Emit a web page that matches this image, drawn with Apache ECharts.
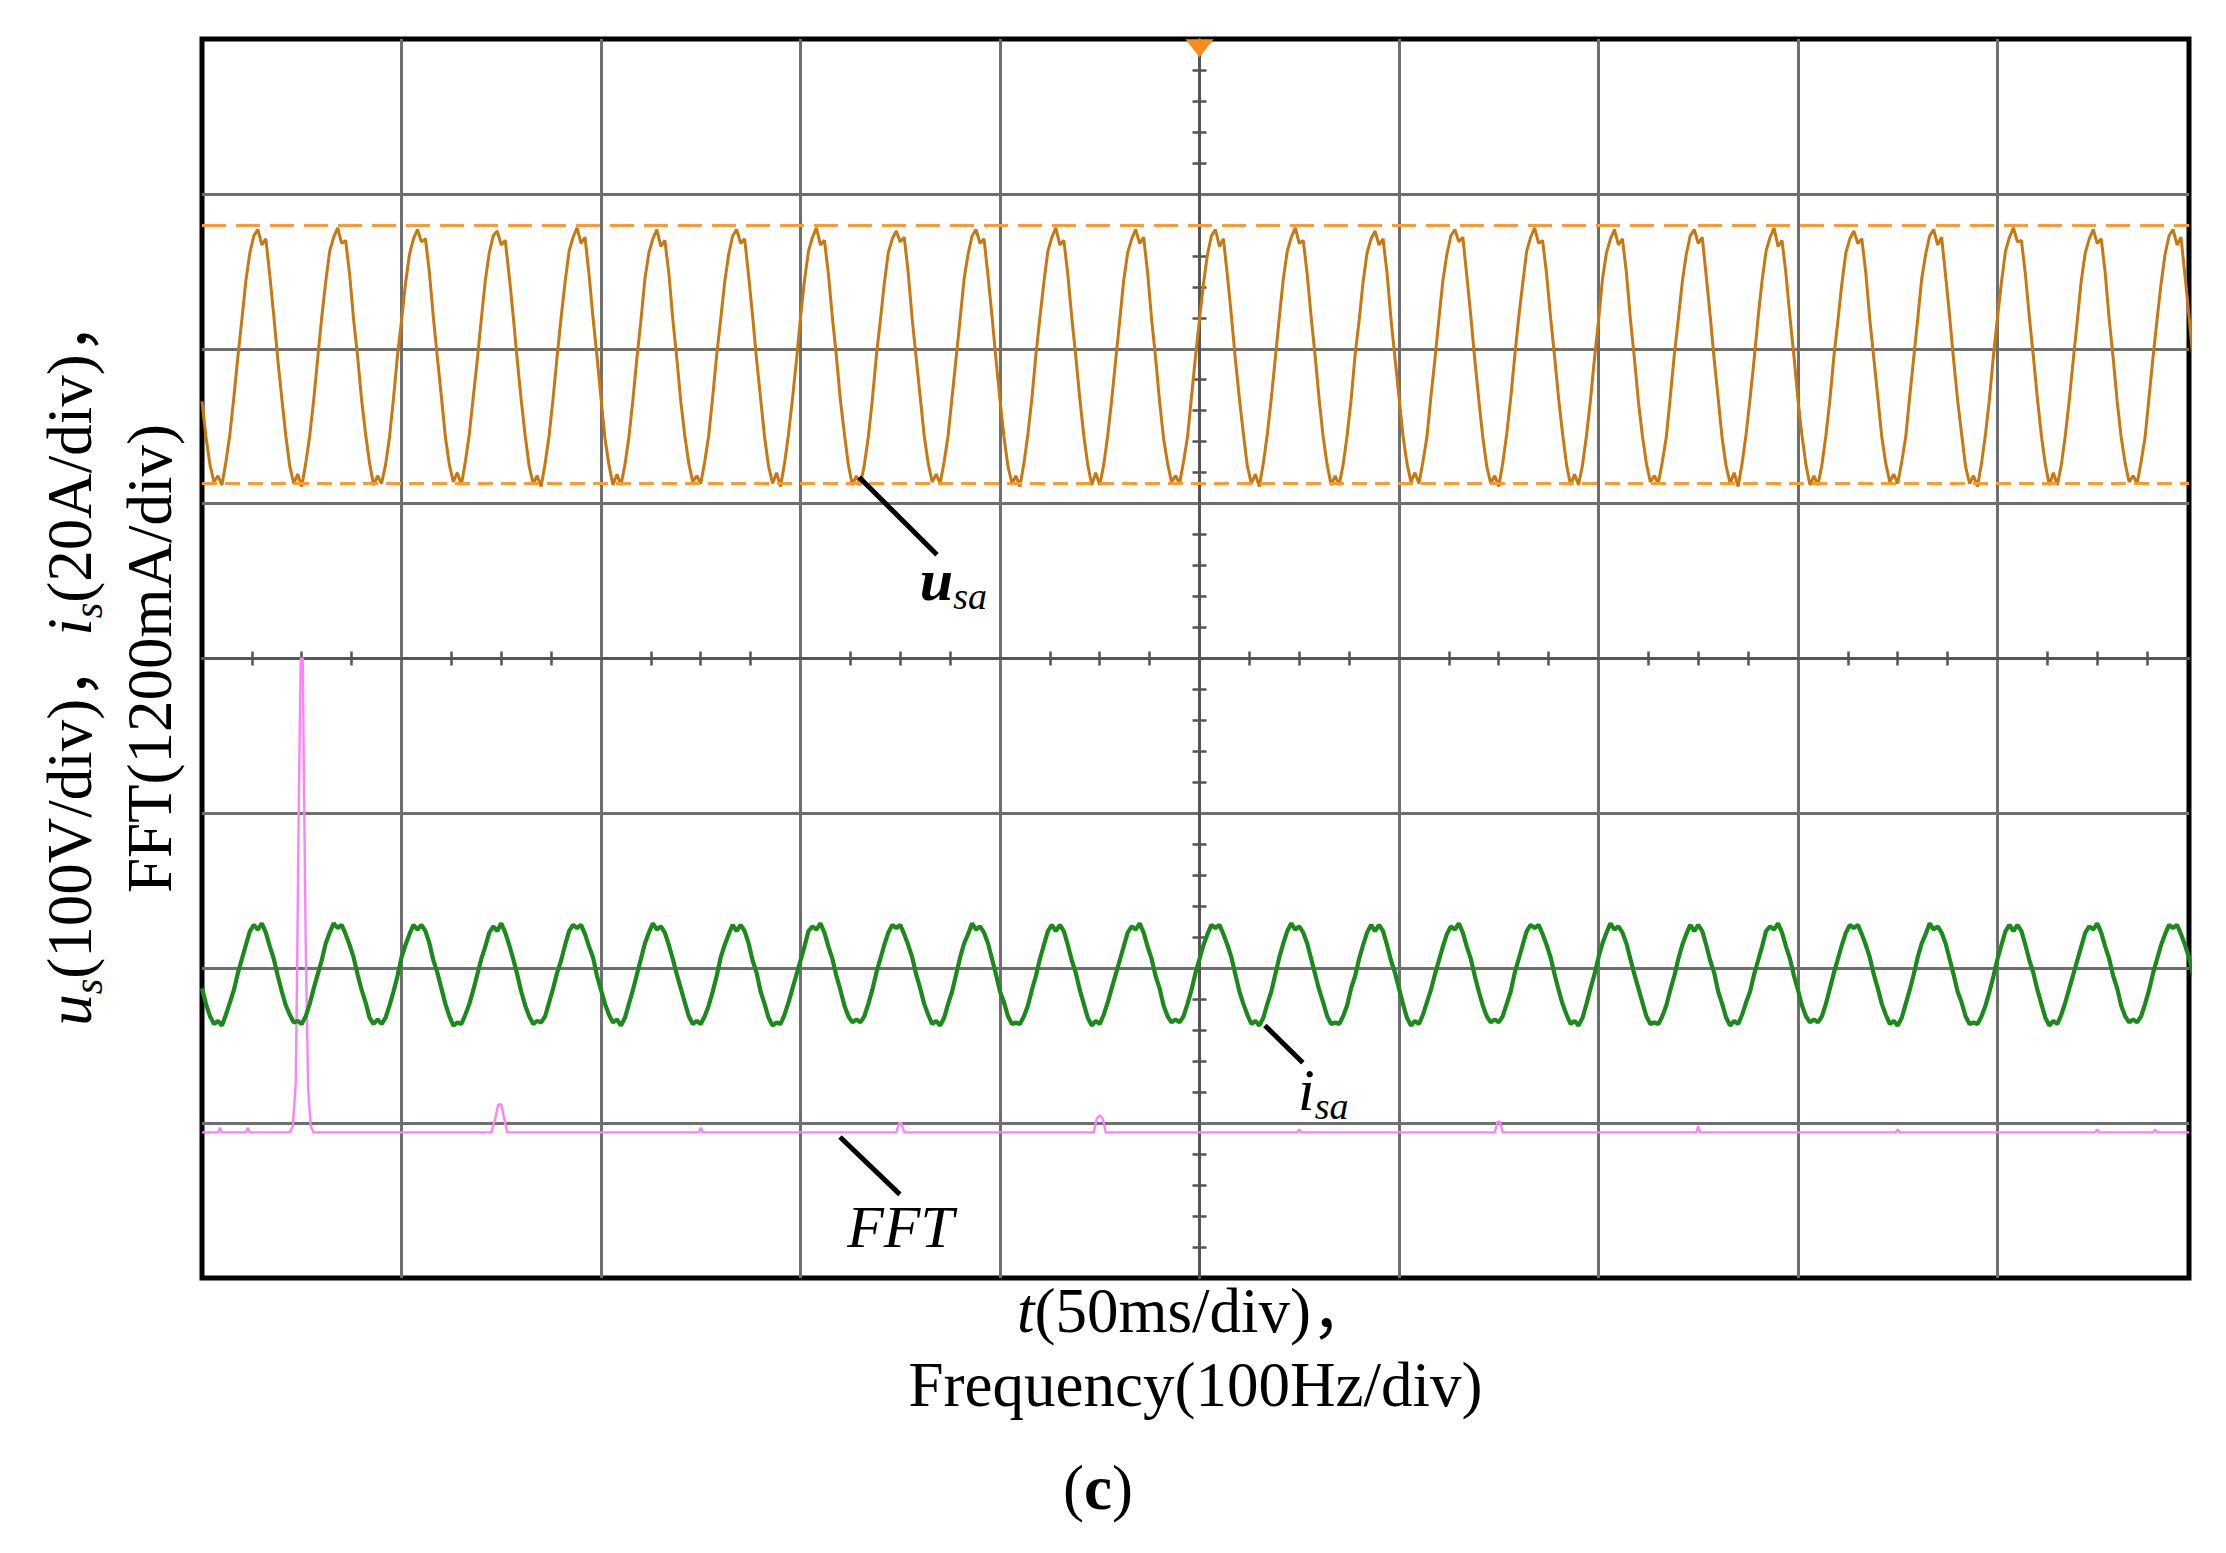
<!DOCTYPE html>
<html><head><meta charset="utf-8">
<script src="https://cdn.jsdelivr.net/npm/echarts@6/dist/echarts.min.js"></script>
<style>html,body{margin:0;padding:0;background:#fff}#c{width:2226px;height:1553px}</style>
</head><body><div id="c"></div>
<script>
// ---- data (all in oscilloscope divisions; 0 = centre line) ----
const sampleStepMs = 1;
// u_sa trace, one sample per ms, t = 0..500 ms
const usaDiv = [
1.66,1.43,1.25,1.14,1.18,1.12,1.27,1.45,1.69,1.95,2.19,2.44,2.62,2.73,2.77,2.67,2.71,2.47,2.21,1.93,
1.68,1.44,1.24,1.13,1.19,1.11,1.26,1.44,1.67,1.94,2.20,2.43,2.63,2.72,2.78,2.68,2.70,2.48,2.19,1.95,
1.67,1.45,1.26,1.12,1.18,1.13,1.25,1.43,1.68,1.96,2.18,2.42,2.61,2.71,2.77,2.69,2.71,2.49,2.20,1.94,
1.69,1.43,1.25,1.14,1.20,1.12,1.27,1.45,1.69,1.93,2.19,2.44,2.62,2.73,2.76,2.67,2.70,2.47,2.21,1.93,
1.67,1.44,1.24,1.13,1.18,1.11,1.26,1.44,1.68,1.95,2.20,2.43,2.63,2.72,2.78,2.68,2.72,2.48,2.20,1.95,
1.68,1.42,1.25,1.12,1.19,1.12,1.25,1.43,1.67,1.94,2.18,2.45,2.62,2.71,2.77,2.66,2.70,2.49,2.19,1.94,
1.66,1.44,1.26,1.14,1.18,1.13,1.27,1.44,1.69,1.96,2.19,2.43,2.61,2.73,2.77,2.68,2.71,2.47,2.21,1.93,
1.68,1.43,1.24,1.13,1.20,1.11,1.26,1.45,1.68,1.93,2.20,2.44,2.63,2.72,2.78,2.67,2.70,2.48,2.20,1.95,
1.67,1.45,1.25,1.12,1.18,1.12,1.25,1.43,1.67,1.95,2.18,2.42,2.62,2.71,2.76,2.69,2.72,2.49,2.19,1.94,
1.69,1.44,1.26,1.14,1.19,1.13,1.27,1.44,1.69,1.94,2.19,2.45,2.61,2.73,2.77,2.68,2.71,2.47,2.21,1.93,
1.67,1.43,1.24,1.13,1.18,1.11,1.26,1.45,1.68,1.96,2.20,2.43,2.63,2.72,2.78,2.67,2.70,2.48,2.20,1.95,
1.68,1.44,1.25,1.12,1.20,1.12,1.25,1.44,1.67,1.93,2.18,2.44,2.62,2.71,2.77,2.68,2.72,2.49,2.19,1.94,
1.66,1.42,1.26,1.14,1.18,1.13,1.27,1.43,1.69,1.95,2.19,2.42,2.61,2.73,2.77,2.66,2.71,2.47,2.21,1.93,
1.68,1.45,1.24,1.13,1.19,1.11,1.26,1.45,1.68,1.94,2.20,2.45,2.63,2.72,2.78,2.68,2.70,2.48,2.20,1.95,
1.67,1.43,1.25,1.12,1.18,1.12,1.25,1.44,1.67,1.96,2.18,2.43,2.62,2.71,2.76,2.67,2.71,2.49,2.19,1.94,
1.69,1.44,1.26,1.14,1.20,1.13,1.27,1.43,1.69,1.93,2.19,2.44,2.61,2.73,2.77,2.69,2.72,2.47,2.21,1.93,
1.67,1.43,1.24,1.13,1.18,1.11,1.26,1.45,1.68,1.95,2.20,2.42,2.63,2.72,2.78,2.68,2.70,2.48,2.20,1.95,
1.68,1.45,1.25,1.12,1.19,1.12,1.25,1.44,1.67,1.94,2.18,2.45,2.62,2.71,2.77,2.67,2.71,2.49,2.19,1.94,
1.66,1.44,1.26,1.14,1.18,1.13,1.27,1.43,1.69,1.96,2.19,2.43,2.61,2.73,2.77,2.68,2.72,2.47,2.21,1.93,
1.68,1.42,1.24,1.13,1.20,1.11,1.26,1.45,1.68,1.93,2.20,2.44,2.63,2.72,2.78,2.66,2.70,2.48,2.20,1.95,
1.67,1.44,1.25,1.12,1.18,1.12,1.25,1.44,1.67,1.95,2.18,2.42,2.62,2.71,2.76,2.68,2.71,2.49,2.19,1.94,
1.69,1.43,1.26,1.14,1.19,1.13,1.27,1.43,1.69,1.94,2.19,2.45,2.61,2.73,2.77,2.67,2.72,2.47,2.21,1.93,
1.67,1.45,1.24,1.13,1.18,1.11,1.26,1.45,1.68,1.96,2.20,2.43,2.63,2.72,2.78,2.69,2.70,2.48,2.20,1.95,
1.68,1.44,1.25,1.12,1.20,1.12,1.25,1.44,1.67,1.93,2.18,2.44,2.62,2.71,2.77,2.68,2.71,2.49,2.19,1.94,
1.66,1.43,1.26,1.14,1.18,1.13,1.27,1.43,1.69,1.95,2.19,2.42,2.61,2.73,2.77,2.67,2.72,2.47,2.21,1.93,
1.67
];
// i_sa trace, one sample per ms, t = 0..500 ms
const isaDiv = [
-2.13,-2.23,-2.31,-2.36,-2.34,-2.37,-2.30,-2.22,-2.14,-2.03,-1.94,-1.85,-1.76,-1.72,-1.75,-1.71,-1.77,-1.86,-1.94,-2.05,
-2.15,-2.24,-2.30,-2.35,-2.34,-2.36,-2.31,-2.23,-2.13,-2.04,-1.95,-1.84,-1.77,-1.71,-1.74,-1.72,-1.78,-1.85,-1.93,-2.04,
-2.14,-2.22,-2.32,-2.36,-2.33,-2.36,-2.32,-2.24,-2.15,-2.05,-1.93,-1.85,-1.78,-1.72,-1.75,-1.72,-1.76,-1.84,-1.95,-2.03,
-2.13,-2.23,-2.31,-2.37,-2.35,-2.36,-2.30,-2.23,-2.14,-2.04,-1.94,-1.86,-1.77,-1.73,-1.76,-1.71,-1.77,-1.85,-1.94,-2.04,
-2.15,-2.24,-2.31,-2.36,-2.34,-2.35,-2.31,-2.22,-2.13,-2.03,-1.95,-1.85,-1.76,-1.72,-1.74,-1.72,-1.78,-1.86,-1.93,-2.05,
-2.14,-2.23,-2.30,-2.35,-2.33,-2.37,-2.32,-2.23,-2.14,-2.04,-1.94,-1.84,-1.77,-1.71,-1.75,-1.73,-1.77,-1.85,-1.94,-2.04,
-2.13,-2.22,-2.31,-2.36,-2.34,-2.36,-2.31,-2.24,-2.15,-2.05,-1.93,-1.85,-1.78,-1.72,-1.76,-1.72,-1.76,-1.84,-1.95,-2.03,
-2.15,-2.23,-2.32,-2.37,-2.35,-2.36,-2.30,-2.22,-2.13,-2.04,-1.95,-1.86,-1.76,-1.73,-1.75,-1.71,-1.77,-1.86,-1.94,-2.05,
-2.14,-2.24,-2.31,-2.35,-2.33,-2.35,-2.31,-2.23,-2.14,-2.03,-1.94,-1.85,-1.77,-1.72,-1.74,-1.72,-1.78,-1.85,-1.93,-2.04,
-2.13,-2.23,-2.30,-2.36,-2.34,-2.37,-2.32,-2.23,-2.15,-2.04,-1.93,-1.84,-1.78,-1.71,-1.75,-1.73,-1.77,-1.84,-1.94,-2.04,
-2.15,-2.22,-2.31,-2.36,-2.35,-2.36,-2.31,-2.24,-2.14,-2.05,-1.94,-1.85,-1.76,-1.72,-1.76,-1.72,-1.76,-1.85,-1.95,-2.03,
-2.14,-2.23,-2.32,-2.37,-2.34,-2.36,-2.30,-2.22,-2.13,-2.04,-1.95,-1.86,-1.77,-1.73,-1.75,-1.71,-1.77,-1.86,-1.94,-2.05,
-2.13,-2.24,-2.31,-2.35,-2.33,-2.35,-2.31,-2.23,-2.14,-2.03,-1.94,-1.85,-1.78,-1.72,-1.74,-1.72,-1.78,-1.85,-1.93,-2.04,
-2.15,-2.23,-2.30,-2.36,-2.34,-2.37,-2.32,-2.23,-2.15,-2.04,-1.93,-1.84,-1.76,-1.71,-1.75,-1.73,-1.77,-1.84,-1.94,-2.04,
-2.14,-2.22,-2.31,-2.36,-2.35,-2.36,-2.31,-2.24,-2.13,-2.05,-1.94,-1.85,-1.77,-1.72,-1.76,-1.72,-1.76,-1.85,-1.95,-2.03,
-2.13,-2.23,-2.32,-2.37,-2.34,-2.36,-2.30,-2.22,-2.14,-2.04,-1.95,-1.86,-1.78,-1.73,-1.75,-1.71,-1.77,-1.86,-1.94,-2.05,
-2.15,-2.24,-2.31,-2.35,-2.33,-2.35,-2.31,-2.23,-2.15,-2.03,-1.94,-1.85,-1.76,-1.72,-1.74,-1.72,-1.78,-1.85,-1.93,-2.04,
-2.14,-2.23,-2.30,-2.36,-2.34,-2.37,-2.32,-2.23,-2.13,-2.04,-1.93,-1.84,-1.77,-1.71,-1.75,-1.73,-1.77,-1.84,-1.94,-2.04,
-2.13,-2.22,-2.31,-2.36,-2.35,-2.36,-2.31,-2.24,-2.14,-2.05,-1.94,-1.85,-1.78,-1.72,-1.76,-1.72,-1.76,-1.85,-1.95,-2.03,
-2.15,-2.23,-2.32,-2.37,-2.34,-2.36,-2.30,-2.22,-2.15,-2.04,-1.95,-1.86,-1.76,-1.73,-1.75,-1.71,-1.77,-1.86,-1.94,-2.05,
-2.14,-2.24,-2.31,-2.35,-2.33,-2.35,-2.31,-2.23,-2.13,-2.03,-1.94,-1.85,-1.77,-1.72,-1.74,-1.72,-1.78,-1.85,-1.93,-2.04,
-2.13,-2.23,-2.30,-2.36,-2.34,-2.37,-2.32,-2.23,-2.14,-2.04,-1.93,-1.84,-1.78,-1.71,-1.75,-1.73,-1.77,-1.84,-1.94,-2.04,
-2.15,-2.22,-2.31,-2.36,-2.35,-2.36,-2.31,-2.24,-2.15,-2.05,-1.94,-1.85,-1.76,-1.72,-1.76,-1.72,-1.76,-1.85,-1.95,-2.03,
-2.14,-2.23,-2.32,-2.37,-2.34,-2.36,-2.30,-2.22,-2.13,-2.04,-1.95,-1.86,-1.77,-1.73,-1.75,-1.71,-1.77,-1.86,-1.94,-2.05,
-2.13,-2.24,-2.31,-2.35,-2.33,-2.35,-2.31,-2.23,-2.14,-2.03,-1.94,-1.85,-1.78,-1.72,-1.74,-1.72,-1.78,-1.85,-1.93,-2.04,
-2.14
];
// FFT spectrum (frequency in Hz, level in divisions)
const fftHz  = [0,8,9,10,22,23,24,44,45.5,47,47.8,48.5,49.5,50.5,51.2,52,53.2,54.5,56,
  145,147,148.5,150,151.5,153, 249,250,251, 348,349.5,350.5,352, 447,448.5,450,451.5,453,
  549,550,551, 648,649.5,650.5,652, 749,750,751, 849,850,851, 949,950,951, 978,979,980, 996];
const fftDiv = [-3.06,-3.06,-3.03,-3.06,-3.06,-3.03,-3.06,-3.06,-3.02,-2.74,-1.86,-0.93,0.0,0.0,-0.93,-1.86,-2.77,-3.02,-3.06,
  -3.06,-2.97,-2.88,-2.88,-2.97,-3.06, -3.06,-3.03,-3.06, -3.06,-3.0,-3.0,-3.06, -3.06,-2.97,-2.95,-2.97,-3.06,
  -3.06,-3.04,-3.06, -3.06,-2.99,-2.99,-3.06, -3.06,-3.02,-3.06, -3.06,-3.04,-3.06, -3.06,-3.04,-3.06, -3.06,-3.04,-3.06, -3.06];
// horizontal cursor levels on u_sa (div)
const cursorLevels = [2.80, 1.13];
// trigger mark (ms, div)
const triggerPoint = [250, 3.94];
// visible screen span (last division is cut slightly short in the capture)
const timeSpanMs = 498, freqSpanHz = 996, centreMs = 250;
// annotation anchors [t(ms), level(div)]
const annUsa = {from:[164.7,1.17], to:[184.2,0.67], text:[179.9,0.39]};
const annIsa = {from:[266.4,-2.37], to:[275.9,-2.61], text:[274.7,-2.90]};
const annFft = {from:[159.9,-3.09], to:[174.9,-3.46], text:[161.7,-3.79]};

// ---- build ----
const usaData = usaDiv.map((v,i)=>[i*sampleStepMs, v]);
const isaData = isaDiv.map((v,i)=>[i*sampleStepMs, v]);
const fftData = fftHz.map((f,i)=>[f, fftDiv[i]]);

const FONT = "'Liberation Serif','Times New Roman','Noto Sans CJK SC',serif";
const G = {left:202, top:39, width:1987, height:1239};
const gridCol = '#6f6f6f', axCol = '#555555';
const centreOffsetX = -G.width * centreMs / timeSpanMs;

const chart = echarts.init(document.getElementById('c'), null, {renderer:'svg'});

const centerAxisY = (inside)=>({type:'value', min:-4, max:4, interval:1, position:'left', offset:centreOffsetX,
  axisLine:{show:true, onZero:false, lineStyle:{color:axCol, width:2.5}},
  axisTick:{show:false, inside:inside}, minorTick:{show:true, splitNumber:5, length:7, lineStyle:{color:axCol, width:2.5}},
  axisLabel:{show:false}, splitLine:{show:false}});
const centerAxisX = (inside)=>({type:'value', min:0, max:timeSpanMs, interval:50, position:'bottom', offset:-G.height/2,
  axisLine:{show:true, onZero:false, lineStyle:{color:axCol, width:2.5}},
  axisTick:{show:false, inside:inside}, minorTick:{show:true, splitNumber:4, length:7, lineStyle:{color:axCol, width:2.5}},
  axisLabel:{show:false}, splitLine:{show:false}});

const option = {
  animation:false,
  backgroundColor:'#ffffff',
  textStyle:{fontFamily:FONT},
  grid:{left:G.left, top:G.top, width:G.width, height:G.height, show:true, borderColor:'#000', borderWidth:5, backgroundColor:'#fff', outerBoundsMode:'none', containLabel:false},
  xAxis:[
    {type:'value', min:0, max:timeSpanMs, interval:50, position:'bottom',
     axisLine:{show:false, onZero:false}, axisTick:{show:false}, axisLabel:{show:false},
     splitLine:{show:true, showMinLine:false, showMaxLine:false, lineStyle:{color:gridCol, width:3}},
     name:'{t|t}{n|(50ms/div)，}\n{n|Frequency(100Hz/div)}', nameLocation:'middle', nameGap:-4,
     nameTextStyle:{color:'#000', fontFamily:FONT, fontSize:63, rich:{
       t:{fontFamily:FONT, fontStyle:'italic', fontSize:63, lineHeight:74, color:'#000'},
       n:{fontFamily:FONT, fontSize:63, lineHeight:74, color:'#000'}}}},
    {type:'value', min:0, max:freqSpanHz, interval:100, position:'top', show:false, axisLine:{onZero:false}},
    centerAxisX(false), centerAxisX(true)
  ],
  yAxis:[
    {type:'value', min:-4, max:4, interval:1, position:'left',
     axisLine:{show:false, onZero:false}, axisTick:{show:false}, axisLabel:{show:false},
     splitLine:{show:true, showMinLine:false, showMaxLine:false, lineStyle:{color:gridCol, width:3}},
     name:'{it|u}{sub|s}{n|(100V/div)，}{it|i}{sub|s}{n|(20A/div)，}\n{n|FFT(1200mA/div)}',
     nameLocation:'middle', nameGap:12, nameRotate:90,
     nameTextStyle:{color:'#000', fontFamily:FONT, fontSize:63, rich:{
       it:{fontFamily:FONT, fontStyle:'italic', fontSize:63, lineHeight:80, color:'#000'},
       sub:{fontFamily:FONT, fontStyle:'italic', fontSize:40, lineHeight:80, padding:[36,0,0,0], color:'#000'},
       n:{fontFamily:FONT, fontSize:63, lineHeight:80, color:'#000'}}}},
    centerAxisY(false), centerAxisY(true)
  ],
  series:[
    {name:'u_sa', type:'line', xAxisIndex:0, yAxisIndex:0, data:usaData, showSymbol:false, symbol:'none',
     lineStyle:{color:'#c8780f', width:3}, z:4,
     markLine:{silent:true, symbol:'none', label:{show:false}, animation:false,
       data:[{yAxis:cursorLevels[0], lineStyle:{type:[24,10], color:'#ff9a33', width:3}},
             {yAxis:cursorLevels[1], lineStyle:{type:[15,8], color:'#ff9a33', width:3}}]},
     markPoint:{silent:true, symbol:'triangle', symbolRotate:180, symbolSize:[28,18], label:{show:false},
       itemStyle:{color:'#ff8c1a'}, data:[{coord:triggerPoint}]}},
    {name:'i_sa', type:'line', xAxisIndex:0, yAxisIndex:0, data:isaData, showSymbol:false, symbol:'none',
     lineStyle:{color:'#1b8a1b', width:4.2}, z:4},
    {name:'FFT', type:'line', xAxisIndex:1, yAxisIndex:0, data:fftData, showSymbol:false, symbol:'none',
     lineStyle:{color:'#ff80ff', width:2.4}, z:3}
  ]
};
chart.setOption(option);

function px(p){ return chart.convertToPixel({xAxisIndex:0, yAxisIndex:0}, p); }
function leader(a){ const f=px(a.from), t=px(a.to);
  return {type:'line', silent:true, z:10, shape:{x1:f[0], y1:f[1], x2:t[0], y2:t[1]}, style:{stroke:'#000', lineWidth:5}}; }
function label(a, text, rich){ const p=px(a.text);
  return {type:'text', silent:true, z:10, x:p[0], y:p[1]+22, style:{text:text, rich:rich, align:'left', verticalAlign:'bottom', fill:'#000'}}; }
const richU = {
  m:{fontFamily:FONT, fontStyle:'italic', fontWeight:'bold', fontSize:60, lineHeight:80, fill:'#000', color:'#000'},
  r:{fontFamily:FONT, fontStyle:'italic', fontSize:60, lineHeight:80, fill:'#000', color:'#000'},
  s:{fontFamily:FONT, fontStyle:'italic', fontSize:38, lineHeight:80, padding:[32,0,0,0], fill:'#000', color:'#000'}
};
chart.setOption({graphic:[
  leader(annUsa), label(annUsa, '{m|u}{s|sa}', richU),
  leader(annIsa), label(annIsa, '{r|i}{s|sa}', richU),
  leader(annFft), label(annFft, '{r|FFT}', richU),
  {type:'text', silent:true, x:1098, y:1488, style:{text:'{p|(}{b|c}{p|)}', align:'center', verticalAlign:'middle',
    rich:{p:{fontFamily:FONT, fontSize:63, lineHeight:74, fill:'#000', color:'#000'},
          b:{fontFamily:FONT, fontSize:63, fontWeight:'bold', lineHeight:74, fill:'#000', color:'#000'}}}}
]});
</script></body></html>
